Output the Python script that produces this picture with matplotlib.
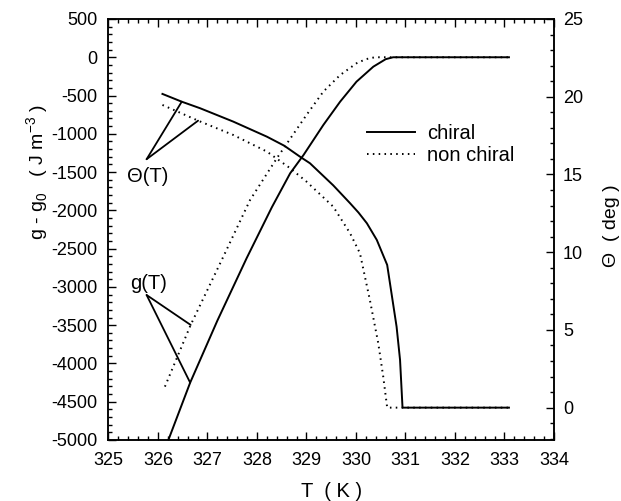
import numpy as np
import matplotlib
matplotlib.use("Agg")
import matplotlib.pyplot as plt
from matplotlib.ticker import MultipleLocator

# ----------------------------------------------------------
# data
# ----------------------------------------------------------
# free energy g - g0, chiral
T_g_chiral = [326.21, 326.65, 327.2, 327.79, 328.3, 328.67, 328.94, 329.34,
              329.68, 330.01, 330.35, 330.6, 330.75, 333.09]
g_chiral = [-5000, -4251, -3440, -2626, -1960, -1516, -1277, -885,
            -580, -319, -123, -25, 0, 0]

# free energy g - g0, non chiral
T_g_nonchiral = [326.14, 326.66, 327.32, 327.86, 328.4, 329.0, 329.34,
                 329.68, 330.01, 330.2, 330.38, 333.09]
g_nonchiral = [-4303, -3497, -2605, -1865, -1320, -754, -449,
               -232, -79, -25, 0, 0]

# tilt angle Theta, chiral
T_th_chiral = [326.09, 326.48, 326.85, 327.52, 328.2, 328.55, 328.87, 329.07,
               329.54, 329.88, 330.05, 330.22, 330.42, 330.63, 330.82,
               330.89, 330.94, 333.09]
th_chiral = [20.18, 19.68, 19.26, 18.40, 17.43, 16.85, 16.14, 15.72,
             14.3, 13.15, 12.55, 11.86, 10.79, 9.18, 5.21,
             3.07, 0.0, 0.0]

# tilt angle Theta, non chiral
T_th_nonchiral = [326.09, 326.81, 327.52, 328.2, 328.67, 329.0, 329.54,
                  329.88, 330.08, 330.28, 330.45, 330.55, 330.63, 333.09]
th_nonchiral = [19.47, 18.46, 17.54, 16.47, 15.40, 14.54, 12.93,
                11.22, 9.93, 6.93, 4.14, 2.0, 0.0, 0.0]

legend_labels = ["chiral", "non chiral"]

# ----------------------------------------------------------
# style
# ----------------------------------------------------------
plt.rcParams["font.family"] = ["Liberation Sans", "DejaVu Sans"]
plt.rcParams["axes.unicode_minus"] = False

LW = 1.4
DOT = (0, (0.8, 2.2))

fig = plt.figure(figsize=(6.21, 5.01), dpi=100)
ax = fig.add_axes([0.1747, 0.1218, 0.7174, 0.8403])
ax2 = ax.twinx()

# ----------------------------------------------------------
# g(T) on left axis
# ----------------------------------------------------------
l_nc, = ax.plot(T_g_nonchiral, g_nonchiral, color="black", lw=LW, ls=DOT)
l_c, = ax.plot(T_g_chiral, g_chiral, color="black", lw=LW)

# ----------------------------------------------------------
# Theta(T) on right axis
# ----------------------------------------------------------
ax2.plot(T_th_nonchiral, th_nonchiral, color="black", lw=LW, ls=DOT)
ax2.plot(T_th_chiral, th_chiral, color="black", lw=LW)

# ----------------------------------------------------------
# axes
# ----------------------------------------------------------
ax.set_xlim(325, 334)
ax.set_ylim(-5000, 500)
ax2.set_ylim(-2.08, 25)

ax.xaxis.set_major_locator(MultipleLocator(1))
ax.xaxis.set_minor_locator(MultipleLocator(0.2))
ax.yaxis.set_major_locator(MultipleLocator(500))
ax.yaxis.set_minor_locator(MultipleLocator(100))
ax2.yaxis.set_major_locator(MultipleLocator(5))
ax2.yaxis.set_minor_locator(MultipleLocator(1))

ax.tick_params(axis="x", which="both", direction="in", top=True, labelsize=13, pad=9)
ax.tick_params(axis="y", which="both", direction="in", labelsize=13, pad=8)
ax2.tick_params(axis="y", which="both", direction="in", labelsize=13, pad=6.5)
for a in (ax, ax2):
    a.tick_params(which="major", length=5.5, width=1)
    a.tick_params(which="minor", length=3, width=1)
    for s in a.spines.values():
        s.set_linewidth(1.1)

ax.set_xlabel("T  ( K )", fontsize=14.5, va="center")
ax.xaxis.set_label_coords(0.5, -0.122)
ax.set_ylabel(r"g - g$_\mathregular{0}$   ( J m$^\mathregular{-3}$ )", fontsize=14, va="center")
ax.yaxis.set_label_coords(-0.16, 0.637)
ax2.set_ylabel("Θ  ( deg )", fontsize=14, rotation=90, va="center")
ax2.yaxis.set_label_coords(1.128, 0.51)

# ----------------------------------------------------------
# annotations
# ----------------------------------------------------------
arrow = dict(arrowstyle="-", lw=1.3, color="black", shrinkA=0, shrinkB=0)
ax2.annotate("", xy=(326.48, 19.68), xytext=(325.77, 15.98), arrowprops=arrow)
ax2.annotate("", xy=(326.81, 18.46), xytext=(325.77, 15.98), arrowprops=arrow)
ax2.text(325.80, 14.9, "Θ(T)", fontsize=14.5, ha="center", va="center")

ax.annotate("", xy=(326.66, -3497), xytext=(325.77, -3106), arrowprops=arrow)
ax.annotate("", xy=(326.65, -4251), xytext=(325.77, -3106), arrowprops=arrow)
ax.text(325.81, -2955, "g(T)", fontsize=14.5, ha="center", va="center")

ax2.legend([l_c, l_nc], legend_labels, frameon=False, fontsize=14.5,
           loc="center left", bbox_to_anchor=(0.5796, 0.702),
           borderpad=0, borderaxespad=0, handlelength=2.4,
           handletextpad=0.6, labelspacing=0.15)

fig.savefig("out.png", dpi=100)
